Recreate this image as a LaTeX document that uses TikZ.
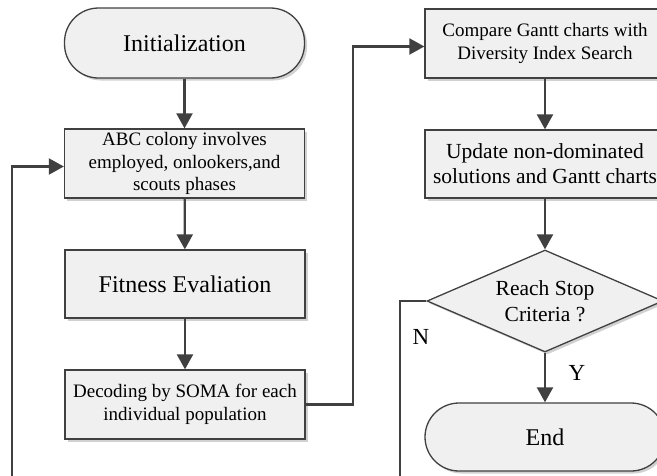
\documentclass[tikz,border=0pt]{standalone}
\usepackage{fontspec}
\setmainfont{Liberation Serif}
\usetikzlibrary{arrows.meta,shapes.geometric,shadows}
\definecolor{lnc}{HTML}{404040}
\definecolor{boxfill}{HTML}{F0F0F0}
\tikzset{
  procbox/.style={draw=lnc,line width=1.3pt,fill=boxfill,minimum width=240pt,minimum height=69pt,
    inner sep=2pt,align=center,
    drop shadow={shadow xshift=2.5pt,shadow yshift=-2.5pt,fill=black,opacity=0.18}},
  termbox/.style={procbox,rounded corners=34pt},
  decbox/.style={draw=lnc,line width=1.3pt,fill=boxfill,diamond,shape aspect=2.31,
    minimum width=236pt,minimum height=102pt,
    inner sep=0pt,align=center,
    drop shadow={shadow xshift=2.5pt,shadow yshift=-2.5pt,fill=black,opacity=0.18}},
  conn/.style={draw=lnc,line width=2.2pt,-{Triangle[length=15pt,width=16pt]}},
  lbl/.style={font=\fontsize{23}{26}\selectfont,inner sep=0pt}
}
\begin{document}
\begin{tikzpicture}[x=1pt,y=-1pt]
\useasboundingbox (0,0) rectangle (657,475);
\clip (0,0) rectangle (657,475);
\node[termbox,minimum height=70pt,font=\fontsize{24}{28}\selectfont] (init) at (184.5,43) {Initialization};
\node[procbox,font=\fontsize{19}{22.5}\selectfont] (abc) at (184.5,163.5) {ABC colony involves\\employed, onlookers,and\\scouts phases};
\node[procbox,minimum height=68pt,font=\fontsize{24}{28}\selectfont] (fit) at (185,284) {Fitness Evaliation};
\node[procbox,font=\fontsize{19}{22.5}\selectfont] (dec) at (185,404.5) {Decoding by SOMA for each\\individual population};
\node[procbox,font=\fontsize{19}{22.5}\selectfont] (cmp) at (545,43.5) {Compare Gantt charts with\\Diversity Index Search};
\node[procbox,minimum height=68pt,font=\fontsize{21.5}{25}\selectfont] (upd) at (545,164) {Update non-dominated\\solutions and Gantt charts};
\node[decbox,font=\fontsize{21.5}{26}\selectfont] (dia) at (545,301) {Reach Stop\\Criteria ?};
\node[termbox,minimum height=68pt,font=\fontsize{24}{28}\selectfont] (endn) at (545,437) {End};
\draw[conn] (init) -- (abc);
\draw[conn] (abc) -- (fit);
\draw[conn] (fit) -- (dec);
\draw[conn] (dec.east) -- (353,404.5) |- ([yshift=-3pt]cmp.west);
\draw[conn] (cmp) -- (upd);
\draw[conn] (upd) -- (dia.north);
\draw[conn] (dia.south) -- (endn.north);
\coordinate (nb) at (400,500);
\coordinate (lb) at (12,500);
\draw[conn] (dia.west) -| (nb) -- (lb) |- ([yshift=-3pt]abc.west);
\node[lbl] (ylab) at (577,373) {Y};
\node[lbl] (nlab) at (421,337) {N};
\end{tikzpicture}
\end{document}
